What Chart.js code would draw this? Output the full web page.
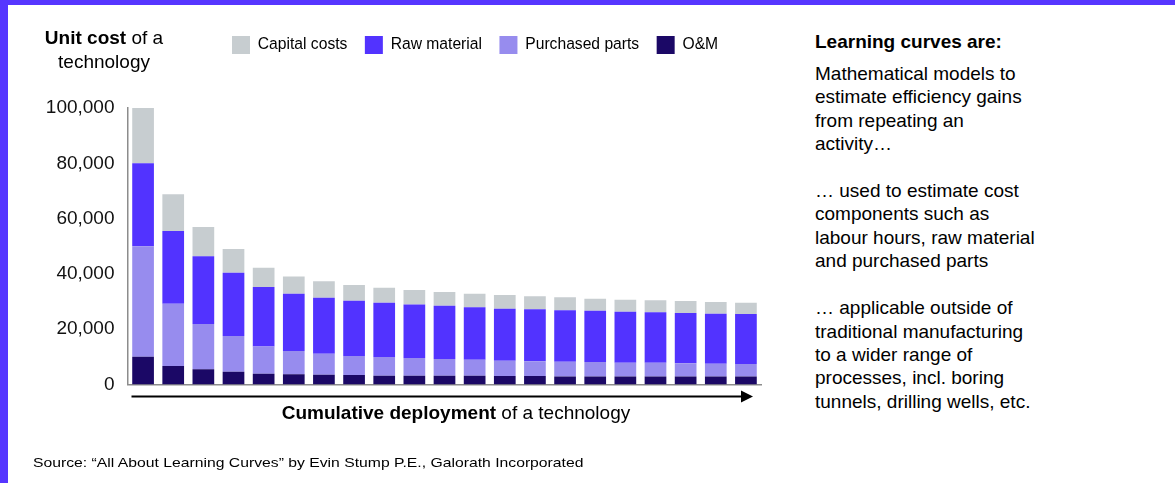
<!DOCTYPE html>
<html>
<head>
<meta charset="utf-8">
<script src="https://cdn.jsdelivr.net/npm/chart.js@4"></script>
<style>
  html, body { margin: 0; padding: 0; background: #fff; }
  body { width: 1175px; height: 483px; position: relative; overflow: hidden;
         font-family: 'Liberation Sans', Arial, sans-serif; color: #000; }
  .bar-top { position: absolute; left: 0; top: 0; width: 1175px; height: 5px; background: #5636ff; }
  .bar-left { position: absolute; left: 0; top: 0; width: 8px; height: 483px; background: #5636ff; }
  #wrap { position: absolute; left: 0; top: 0; width: 780px; height: 483px; }
  .ytitle { position: absolute; left: 30px; top: 26px; width: 148px; text-align: center;
            font-size: 19px; line-height: 23.5px; }
  .xtitle { position: absolute; left: 206px; top: 401px; width: 500px; text-align: center;
            font-size: 19px; line-height: 24px; }
  .source { position: absolute; left: 33px; top: 455px; font-size: 13.5px; line-height: 16px;
            white-space: nowrap; transform: scaleX(1.165); transform-origin: left center; }
  .side-head { position: absolute; left: 815px; top: 30px; font-size: 19px; font-weight: bold; line-height: 23.45px; }
  .side { position: absolute; left: 815px; top: 61.6px; font-size: 19px; line-height: 23.45px; }
</style>
</head>
<body>
<div class="bar-top"></div>
<div class="bar-left"></div>
<div id="wrap"><canvas id="chart"></canvas></div>
<div class="ytitle"><b>Unit cost</b> of a<br>technology</div>
<div class="xtitle"><b>Cumulative deployment</b> of a technology</div>
<div class="source">Source: “All About Learning Curves” by Evin Stump P.E., Galorath Incorporated</div>
<div class="side-head">Learning curves are:</div>
<div class="side">Mathematical models to<br>estimate efficiency gains<br>from repeating an<br>activity…<br><br>… used to estimate cost<br>components such as<br>labour hours, raw material<br>and purchased parts<br><br>… applicable outside of<br>traditional manufacturing<br>to a wider range of<br>processes, incl. boring<br>tunnels, drilling wells, etc.</div>
<script>
// deployment steps (no labels shown on the axis)
const steps = ['1','2','3','4','5','6','7','8','9','10','11','12','13','14','15','16','17','18','19','20','21'];

// cost components per step, bottom to top of each stack
const omCost        = [10000, 6700, 5500, 4600, 3900, 3700, 3550, 3450, 3200, 3200, 3200, 3200, 3100, 3050, 2850, 2850, 2850, 2850, 2850, 2850, 2850];
const purchasedCost = [40000, 22500, 16400, 12900, 9800, 8400, 7550, 6850, 6750, 6400, 6000, 5750, 5500, 5350, 5400, 5300, 5050, 5050, 4800, 4650, 4550];
const rawCost       = [30000, 26300, 24500, 22900, 21600, 20700, 20300, 20000, 19650, 19300, 19300, 18950, 18800, 18800, 18600, 18550, 18450, 18200, 18200, 18100, 18100];
const capitalCost   = [20000, 13300, 10600, 8600, 6900, 6300, 5900, 5700, 5400, 5300, 4950, 4950, 4950, 4700, 4700, 4350, 4300, 4350, 4350, 4250, 4100];

const yTicks = [0, 20000, 40000, 60000, 80000, 100000];

const colors = {
  om: '#1b0866',
  purchased: '#978cee',
  raw: '#5233ff',
  capital: '#c7cdd0'
};

Chart.defaults.font.family = "'Liberation Sans', Arial, sans-serif";
Chart.defaults.color = '#000';

// legend sits right of the y title, not centred over the plot
const legendPlace = {
  id: 'legendPlace',
  afterLayout(chart) {
    chart.legend.left = 214.5;
    chart.legend.top = 18.5;
  }
};

// arrow under the x axis
const deployArrow = {
  id: 'deployArrow',
  afterDraw(chart) {
    const { ctx, chartArea } = chart;
    const y = chartArea.bottom + 12;
    const x0 = chartArea.left + 3.5;
    const tip = chartArea.right - 8;
    ctx.save();
    ctx.strokeStyle = '#000';
    ctx.fillStyle = '#000';
    ctx.lineWidth = 2;
    ctx.beginPath();
    ctx.moveTo(x0, y);
    ctx.lineTo(tip - 10, y);
    ctx.stroke();
    ctx.beginPath();
    ctx.moveTo(tip - 12, y - 6);
    ctx.lineTo(tip, y);
    ctx.lineTo(tip - 12, y + 6);
    ctx.closePath();
    ctx.fill();
    ctx.restore();
  }
};

const mkSet = (label, data, color) => ({
  label,
  data,
  backgroundColor: color,
  borderWidth: 0,
  categoryPercentage: 1,
  barPercentage: 0.72
});

new Chart(document.getElementById('chart'), {
  type: 'bar',
  data: {
    labels: steps,
    datasets: [
      mkSet('O&M', omCost, colors.om),
      mkSet('Purchased parts', purchasedCost, colors.purchased),
      mkSet('Raw material', rawCost, colors.raw),
      mkSet('Capital costs', capitalCost, colors.capital)
    ]
  },
  options: {
    responsive: true,
    maintainAspectRatio: false,
    animation: false,
    layout: {
      padding: { top: 62.5, right: 19, bottom: 98.5, left: 0 }
    },
    plugins: {
      legend: {
        position: 'top',
        align: 'start',
        reverse: true,
        labels: {
          boxWidth: 18,
          boxHeight: 18,
          padding: 17.5,
          color: '#000',
          font: { size: 15.65 }
        }
      },
      tooltip: { enabled: false }
    },
    scales: {
      x: {
        stacked: true,
        grid: { display: false, drawTicks: false },
        border: { display: true, color: '#8c8c8c', width: 1.5 },
        ticks: { display: false }
      },
      y: {
        stacked: true,
        min: 0,
        max: 100000,
        afterFit(scale) { scale.width = 128; },
        afterBuildTicks(scale) { scale.ticks = yTicks.map(v => ({ value: v })); },
        grid: { display: false, drawTicks: false },
        border: { display: true, color: '#8c8c8c', width: 1.5 },
        ticks: {
          padding: 13.5,
          color: '#111',
          font: { size: 19 },
          callback: v => v.toLocaleString('en-US')
        }
      }
    }
  },
  plugins: [legendPlace, deployArrow]
});
</script>
</body>
</html>
